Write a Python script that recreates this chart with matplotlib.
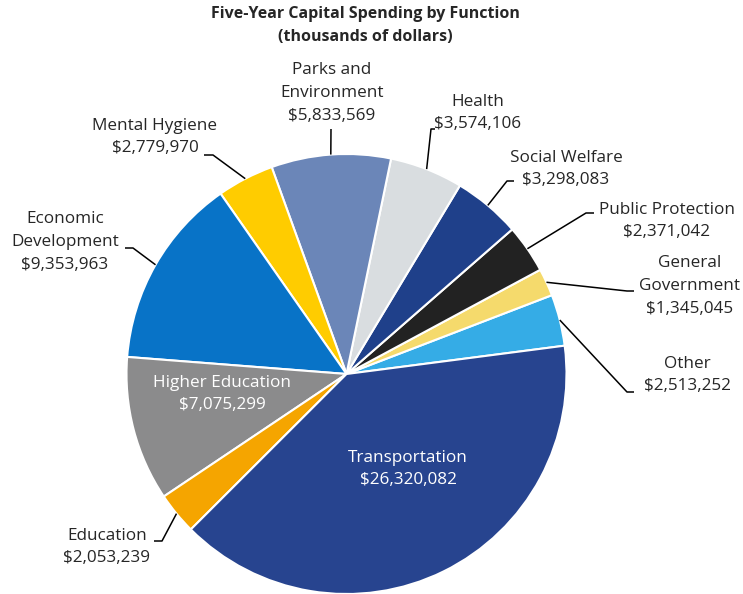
import numpy as np
import matplotlib.pyplot as plt

plt.rcParams['font.family'] = ['Open Sans', 'DejaVu Sans']

# data, in the order the wedges run (counter-clockwise from "Other")
functions = ['Other', 'General\nGovernment', 'Public Protection', 'Social Welfare',
             'Health', 'Parks and\nEnvironment', 'Mental Hygiene',
             'Economic\nDevelopment', 'Higher Education', 'Education', 'Transportation']
spending = [2513252, 1345045, 2371042, 3298083, 3574106, 5833569, 2779970,
            9353963, 7075299, 2053239, 26320082]
colors = ['#35ace6', '#f5da6c', '#222222', '#1f408a', '#d9dde0', '#6b86b8',
          '#ffcc00', '#0873c7', '#8b8b8c', '#f5a500', '#27448f']

W, H = 743, 594
fig = plt.figure(figsize=(W / 100, H / 100), dpi=100)
ax = fig.add_axes([0, 0, 1, 1])

cx, cy, r = 346.5, 374.0, 220.0   # pixel coords, y from top
wedges, _ = ax.pie(spending, colors=colors, startangle=7.4, counterclock=True,
                   center=(cx, H - cy), radius=r,
                   wedgeprops=dict(edgecolor='white', linewidth=1.5))
ax.set_xlim(0, W)
ax.set_ylim(0, H)
ax.set_aspect('equal')
ax.axis('off')

def money(v):
    return '${:,}'.format(v)

# label layout: text centre (px), leader elbow and end (px) or None for inside labels
layout = {
    'Other': ((687, 375), (627, 392), (634, 392)),
    'General\nGovernment': ((690, 286), (627, 291), (634, 291)),
    'Public Protection': ((667, 221), (586, 213), (594, 213)),
    'Social Welfare': ((566, 169), (507, 181), (514, 181)),
    'Health': ((478, 113), (431, 129), (435, 129)),
    'Parks and\nEnvironment': ((332, 93), (331, 129), (331, 129)),
    'Mental Hygiene': ((155, 137), (213, 155), (204, 155)),
    'Economic\nDevelopment': ((65, 242), (133, 248), (125, 248)),
    'Higher Education': ((222, 394), None, None),
    'Education': ((107, 547), (162, 541), (154, 541)),
    'Transportation': ((408, 469), None, None),
}

for w, name, val in zip(wedges, functions, spending):
    (tx, ty), elbow, end = layout[name]
    inside = elbow is None
    ax.text(tx, H - ty, name + '\n' + money(val), ha='center', va='center',
            fontsize=12.3, linespacing=1.58,
            color='white' if inside else '#262626')
    if not inside:
        mid = np.deg2rad((w.theta1 + w.theta2) / 2)
        sx = cx + r * np.cos(mid)
        sy = (H - cy) + r * np.sin(mid)
        ax.plot([sx, elbow[0], end[0]], [sy, H - elbow[1], H - end[1]],
                color='black', lw=1.1, solid_capstyle='butt')

fig.text(365 / W, 1 - 14 / H, 'Five-Year Capital Spending by Function',
         ha='center', va='center', fontsize=11.5, fontweight='bold', color='#262626')
fig.text(365 / W, 1 - 37 / H, '(thousands of dollars)',
         ha='center', va='center', fontsize=11.5, fontweight='bold', color='#262626')

fig.savefig('out.png', dpi=100)
